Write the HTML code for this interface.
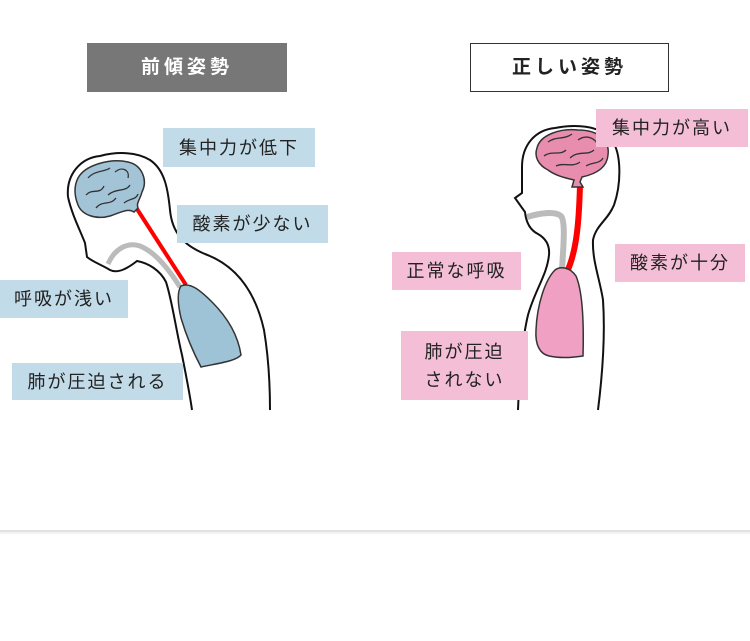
<!DOCTYPE html>
<html><head><meta charset="utf-8"><style>
body{margin:0;width:750px;height:641px;background:#fff;position:relative;overflow:hidden;font-family:"Liberation Sans","Noto Sans CJK JP",sans-serif;}
.b{position:absolute;font-size:18px;letter-spacing:2px;color:#222;display:flex;align-items:center;justify-content:center;text-align:center;line-height:28px;}
.bl{background:#c2dbe8;}
.pk{background:#f4bfd6;}
svg{position:absolute;left:0;top:0;}
</style></head><body>
<svg width="750" height="641">
<path d="M68,197 C66,175 80,158 100,156 C115,152 135,151 150,160 C165,170 168,190 170,210 C172,232 183,245 205,254 C235,265 255,290 264,330 C269,360 270,390 270,410" fill="none" stroke="#111" stroke-width="2"/>
<path d="M68,197 C72,215 80,230 85,243 L87,257 C93,262 102,265 110,270 C118,274 128,268 137,261 C148,263 160,270 166,282 C172,300 176,330 182,355 C186,375 190,395 192,410" fill="none" stroke="#111" stroke-width="2"/>
<path d="M108,264 C115,248 128,242 140,246 C155,252 168,268 180,287" fill="none" stroke="#bbb" stroke-width="5"/>
<path d="M137,209 L186,285" stroke="#f00" stroke-width="4"/>
<path d="M78,178 C85,165 110,158 128,162 C142,165 148,180 142,192 C140,200 136,203 138,208 L134,212 C128,208 122,212 110,216 C96,220 82,215 78,205 C74,195 74,186 78,178 Z" fill="#a3c3d7" stroke="#333" stroke-width="1.5"/>
<path d="M88,178 C95,170 105,172 110,168 M115,172 C122,166 130,170 128,178 M86,195 C92,188 100,195 104,186 M108,195 C116,188 126,192 130,185 M96,208 C102,200 110,206 116,198 M124,203 C130,198 136,200 138,194" fill="none" stroke="#333" stroke-width="1.3"/>
<path d="M181,286 C190,282 200,290 212,302 C228,318 238,335 241,355 C236,361 220,363 201,367 C192,350 186,335 181,318 C178,305 177,292 181,286 Z" fill="#9fc3d6" stroke="#333" stroke-width="1.5"/>
<path d="M522,167 C522,145 535,130 555,128 C575,124 600,125 612,140 C622,155 621,185 614,205 C608,220 596,225 593,240 C592,260 600,280 603,300 C605,330 603,370 598,410" fill="none" stroke="#111" stroke-width="2"/>
<path d="M522,167 L522,193 L515,198 L525,212 C526,222 530,230 538,234 C545,238 550,244 549,255 C547,275 535,290 528,315 C522,340 519,380 518,410" fill="none" stroke="#111" stroke-width="2"/>
<path d="M527,217 C540,213 555,211 561,216 C566,222 563,250 562,270" fill="none" stroke="#bbb" stroke-width="6"/>
<path d="M580,185 C579,220 577,250 567,272" fill="none" stroke="#f00" stroke-width="6"/>
<path d="M537,148 C540,135 560,128 578,130 C598,130 610,140 608,155 C607,168 596,174 582,177 L580,182 L583,187 L572,187 L574,180 C566,178 556,176 548,170 C538,165 534,156 537,148 Z" fill="#e98daf" stroke="#333" stroke-width="1.5"/>
<path d="M548,142 C556,136 564,140 572,134 M578,140 C586,134 596,138 598,146 M544,156 C552,150 560,156 566,150 M570,158 C578,150 588,156 594,150 M556,166 C564,162 572,168 580,162 M586,166 C592,162 600,164 603,158" fill="none" stroke="#333" stroke-width="1.3"/>
<path d="M555,270 C560,266 570,267 576,276 C582,290 584,320 583,356 C570,358 558,358 549,356 C540,354 535,345 536,330 C537,305 545,280 555,270 Z" fill="#f0a0c3" stroke="#333" stroke-width="1.5"/>
<line x1="0" y1="531" x2="750" y2="531" stroke="#e2e2e2" stroke-width="2"/>
<line x1="0" y1="533" x2="750" y2="533" stroke="#f2f2f2" stroke-width="2"/>
</svg>
<div class="b" style="left:87px;top:43px;width:200px;height:49px;background:#777;color:#fff;font-weight:bold;font-size:19px;letter-spacing:4px;">前傾姿勢</div>
<div class="b" style="left:470px;top:43px;width:197px;height:47px;border:1px solid #333;font-weight:bold;font-size:19px;letter-spacing:4px;">正しい姿勢</div>
<div class="b bl" style="left:163px;top:128px;width:152px;height:39px;">集中力が低下</div>
<div class="b bl" style="left:177px;top:205px;width:151px;height:38px;">酸素が少ない</div>
<div class="b bl" style="left:0px;top:280px;width:128px;height:38px;">呼吸が浅い</div>
<div class="b bl" style="left:12px;top:363px;width:171px;height:37px;">肺が圧迫される</div>
<div class="b pk" style="left:596px;top:109px;width:152px;height:38px;">集中力が高い</div>
<div class="b pk" style="left:392px;top:252px;width:129px;height:38px;">正常な呼吸</div>
<div class="b pk" style="left:615px;top:244px;width:130px;height:38px;">酸素が十分</div>
<div class="b pk" style="left:401px;top:331px;width:127px;height:69px;">肺が圧迫<br>されない</div>
</body></html>
